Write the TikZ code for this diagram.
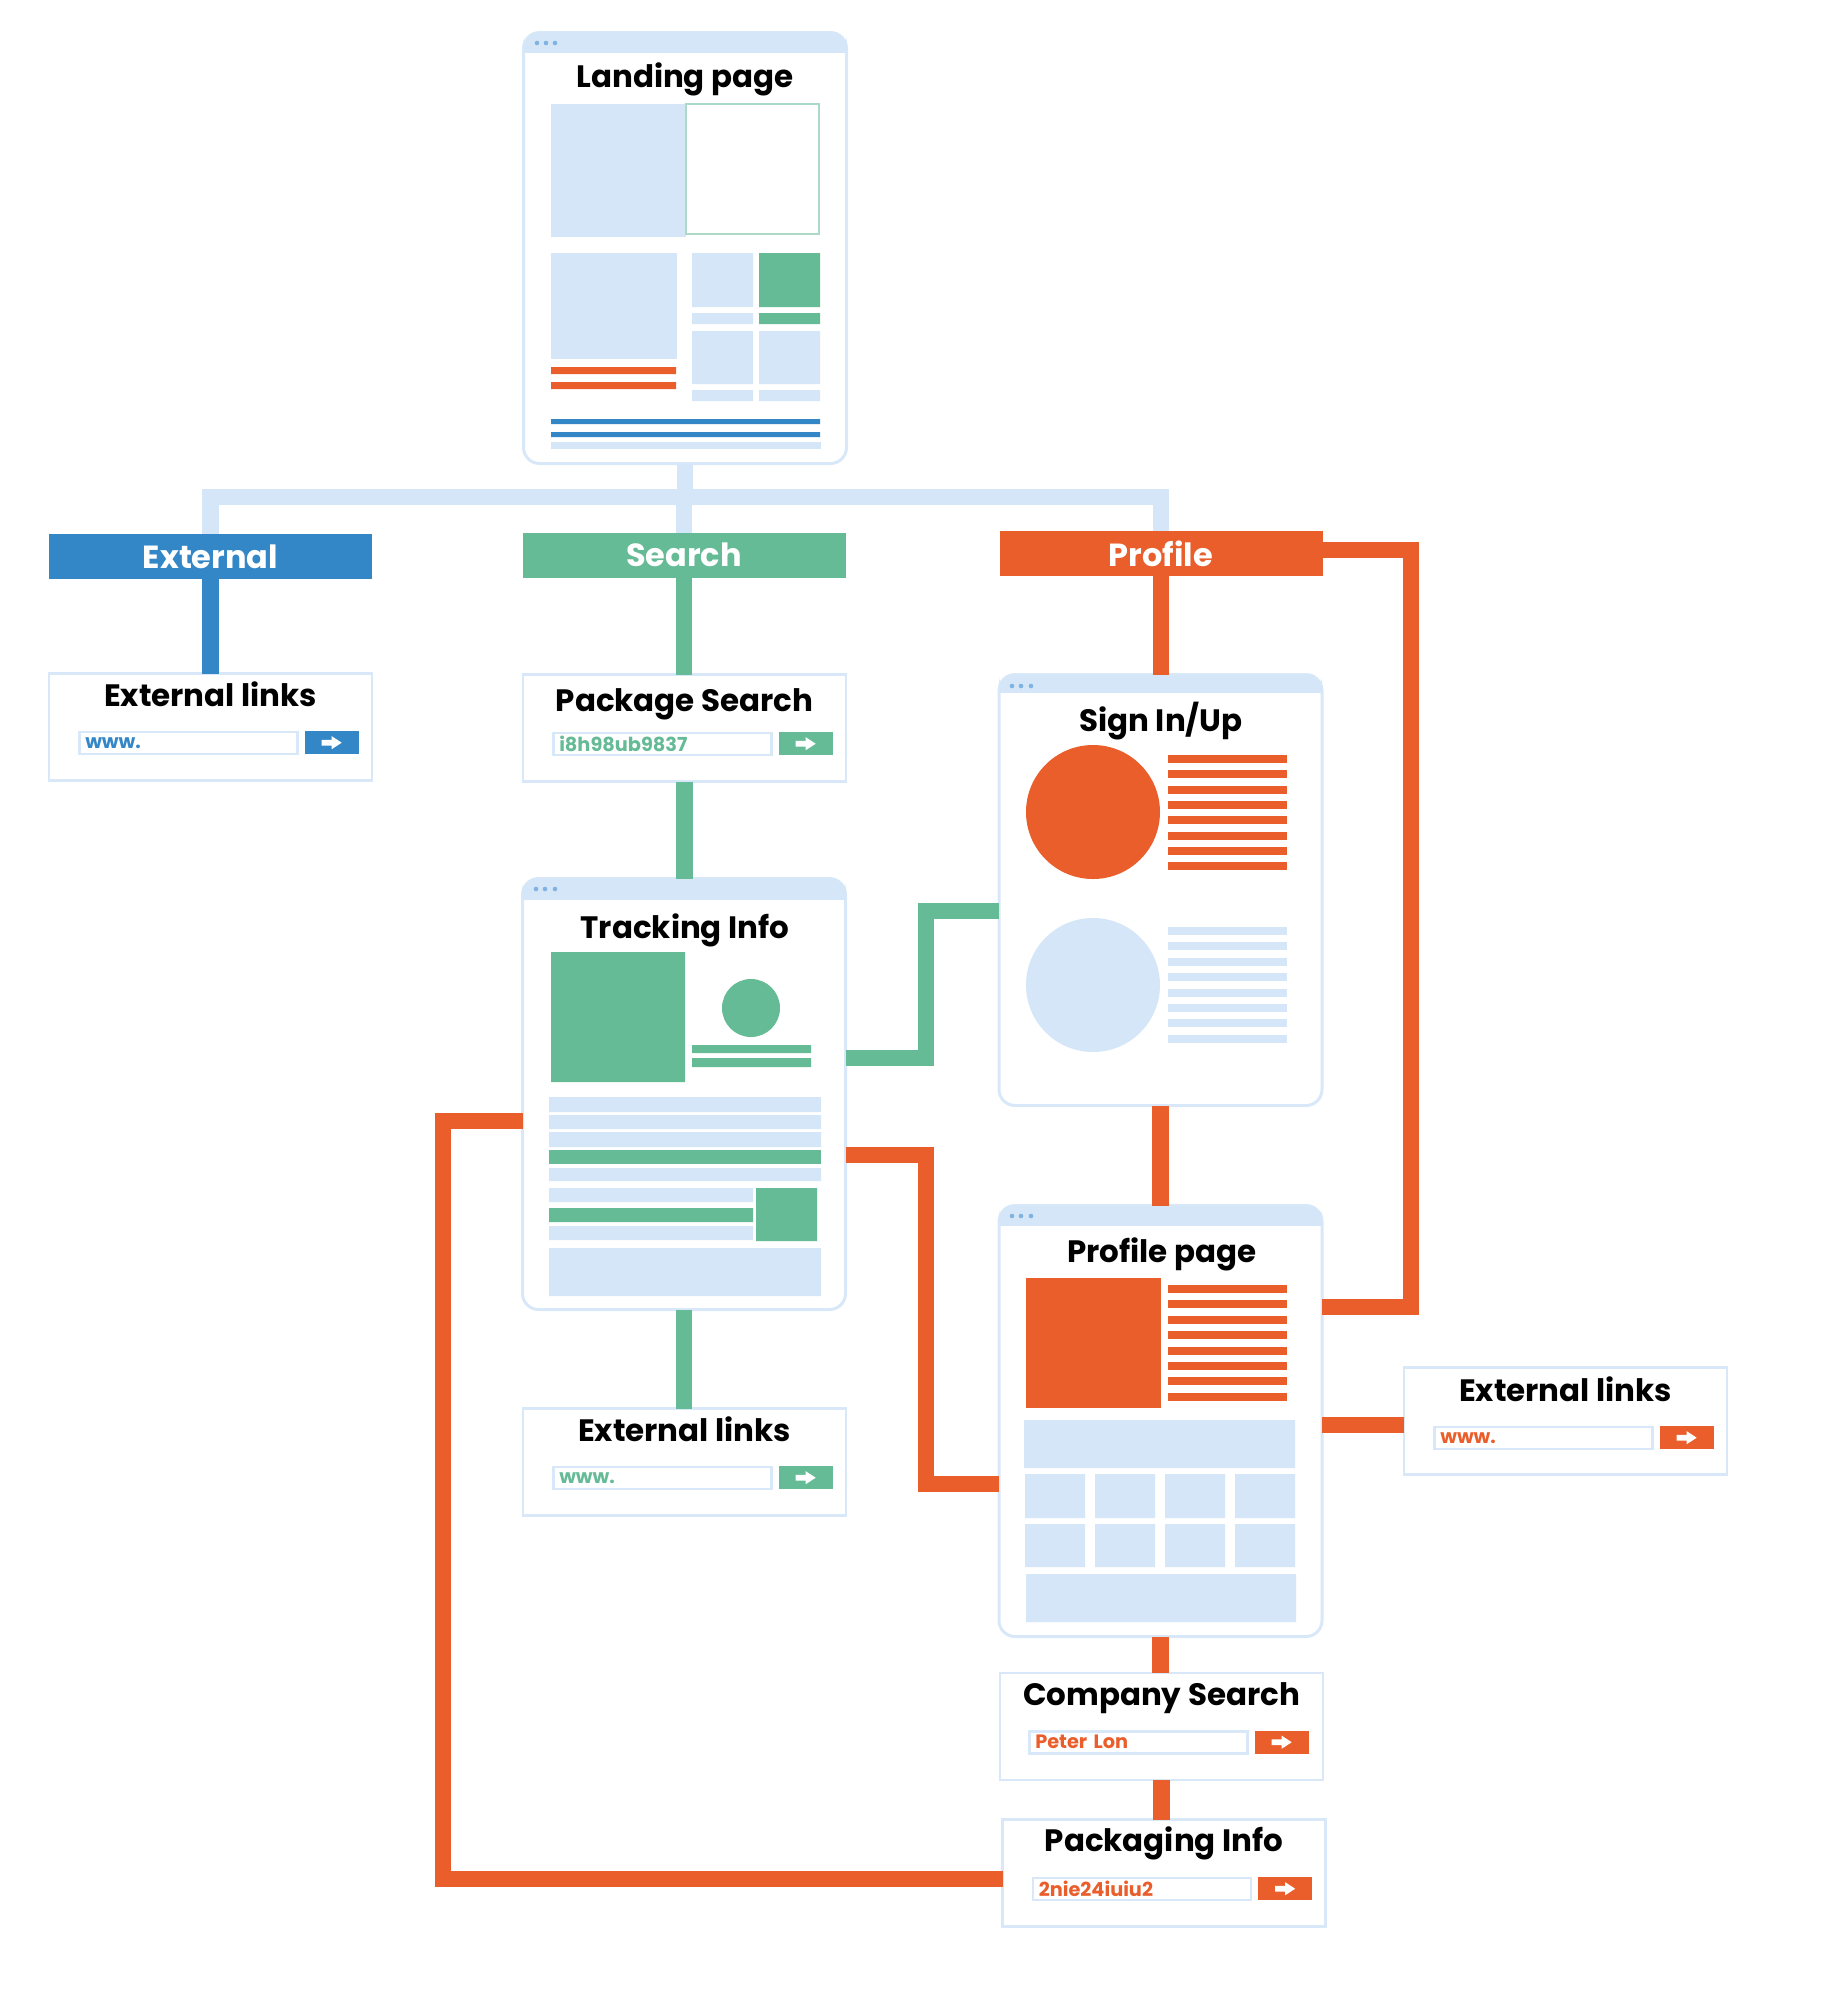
\documentclass[tikz,border=0pt]{standalone}
\usepackage{fontspec}
\setmainfont{Poppins}
\definecolor{wfblue}{HTML}{3487C7}
\definecolor{wfgreen}{HTML}{65BB95}
\definecolor{wforange}{HTML}{EA5E2B}
\definecolor{wflight}{HTML}{D4E6F7}
\definecolor{wfframe}{HTML}{D8E8F8}
\definecolor{wfdot}{HTML}{80B3E3}

\begin{document}
\begin{tikzpicture}[x=0.1mm, y=-0.1mm,
	page/.style = {draw=wfframe, line width=0.3mm, rounded corners=1.6mm, fill=white, minimum width=32.3mm, minimum height=43.1mm, inner sep=0pt, outer sep=0pt},
	sbox/.style = {draw=wfframe, line width=0.25mm, fill=white, minimum width=32.3mm, minimum height=10.7mm, inner sep=0pt, outer sep=0pt},
	head/.style = {minimum width=32.3mm, minimum height=4.5mm, inner sep=0pt, outer sep=0pt, text=white, font=\bfseries\fontsize{9.1}{11}\selectfont},
	ttl/.style = {anchor=base, inner sep=0pt, font=\bfseries\fontsize{8.8}{11}\selectfont},
	field/.style = {draw=wfframe, line width=0.25mm, fill=white, anchor=north west, minimum width=21.8mm, minimum height=2.2mm, text width=20.6mm, inner xsep=0.6mm, inner ysep=0pt, align=left, font=\bfseries\fontsize{5.5}{5.5}\selectfont},
	btn/.style = {anchor=north west, minimum width=5.4mm, minimum height=2.3mm, inner sep=0pt},
	link/.style = {line width=1.65mm},
	gobtn/.pic = {\fill[white] (-10,-2.8) -- (0,-2.8) -- (0,-6.5) -- (10,0) -- (0,6.5) -- (0,2.8) -- (-10,2.8) -- cycle;}]
	\useasboundingbox (0,0) rectangle (1836,1992);

	\node[page] (land) at (685,248) {};
	\node[page] (track) at (684,1094) {};
	\node[page] (sign) at (1160.5,890) {};
	\node[page] (prof) at (1160.5,1421) {};

	\node[head, fill=wfblue] (exthead) at (210.5,556.5) {External};
	\node[head, fill=wfgreen] (srchhead) at (684,555) {Search};
	\node[head, fill=wforange] (profhead) at (1161,553.5) {Profile};

	\node[sbox] (extl) at (210.5,727) {};
	\node[sbox] (pkg) at (684.5,728) {};
	\node[sbox] (extm) at (684.5,1462) {};
	\node[sbox] (extr) at (1565.5,1421) {};
	\node[sbox] (comp) at (1161.5,1726.5) {};
	\node[sbox] (pack) at (1164,1873) {};

	\fill[wflight, rounded corners=1.6mm] (land.north west) rectangle ([yshift=-2mm]land.north east);
	\fill[wflight] ([yshift=-1mm]land.north west) rectangle ([yshift=-2mm]land.north east);
	\fill[wfdot] (537,43) circle (2.3) (546,43) circle (2.3) (555,43) circle (2.3);
	\node[ttl] (landt) at (685,87) {Landing page};
	\fill[wflight] (551,104) rectangle (686,237);
	\draw[wfgreen!55, line width=0.15mm] (686,104) rectangle (819,234);
	\fill[wflight] (551,253) rectangle (677,359);
	\fill[wforange] (551,367) rectangle (676,374) (551,382) rectangle (676,389);
	\fill[wflight] (692,253) rectangle (753,307) (692,313) rectangle (753,324) (692,331) rectangle (753,384) (692,390) rectangle (753,401);
	\fill[wfgreen] (759,253) rectangle (820,307) (759,313) rectangle (820,324);
	\fill[wflight] (759,331) rectangle (820,384) (759,390) rectangle (820,401);
	\fill[wfblue] (551,419) rectangle (820,424) (551,432) rectangle (820,437);
	\fill[wflight] (551,442) rectangle (821,449);

	\fill[wflight, rounded corners=1.6mm] (track.north west) rectangle ([yshift=-2.1mm]track.north east);
	\fill[wflight] ([yshift=-1mm]track.north west) rectangle ([yshift=-2.1mm]track.north east);
	\fill[wfdot] (536,889) circle (2.3) (545,889) circle (2.3) (555,889) circle (2.3);
	\node[ttl] (trackt) at (685,938) {Tracking Info};
	\fill[wfgreen] (551,952) rectangle (685,1082) (751,1008) circle (29);
	\fill[wfgreen] (692,1045) rectangle (811,1053) (692,1058) rectangle (811,1067);
	\fill[wflight] (549,1097) rectangle (821,1112) (549,1115) rectangle (821,1129) (549,1132) rectangle (821,1147) (549,1168) rectangle (821,1181);
	\fill[wfgreen] (549,1150) rectangle (821,1164);
	\fill[wflight] (549,1188) rectangle (753,1202) (549,1226) rectangle (753,1240) (549,1248) rectangle (821,1296);
	\fill[wfgreen] (549,1208) rectangle (753,1222) (756,1188) rectangle (817,1241);

	\fill[wflight, rounded corners=1.6mm] (sign.north west) rectangle ([yshift=-1.8mm]sign.north east);
	\fill[wflight] ([yshift=-0.9mm]sign.north west) rectangle ([yshift=-1.8mm]sign.north east);
	\fill[wfdot] (1012,686) circle (2.3) (1021,686) circle (2.3) (1031,686) circle (2.3);
	\node[ttl] (signt) at (1161,731) {Sign In/Up};
	\fill[wforange] (1093,812) circle (67);
	\draw[wforange, line width=11.9mm, dash pattern=on 0.8mm off 0.73mm] (1227.5,755) -- (1227.5,870);
	\fill[wflight] (1093,985) circle (67);
	\draw[wflight, line width=11.9mm, dash pattern=on 0.8mm off 0.74mm] (1227.5,927) -- (1227.5,1043);

	\fill[wflight, rounded corners=1.6mm] (prof.north west) rectangle ([yshift=-2mm]prof.north east);
	\fill[wflight] ([yshift=-1mm]prof.north west) rectangle ([yshift=-2mm]prof.north east);
	\fill[wfdot] (1012,1216) circle (2.3) (1021,1216) circle (2.3) (1031,1216) circle (2.3);
	\node[ttl] (proft) at (1162,1262) {Profile page};
	\fill[wforange] (1026,1278) rectangle (1161,1408);
	\draw[wforange, line width=11.9mm, dash pattern=on 0.8mm off 0.74mm] (1227.5,1285) -- (1227.5,1401);
	\fill[wflight] (1024,1420) rectangle (1295,1468) (1026,1574) rectangle (1296,1622);
	\fill[wflight] (1025,1474) rectangle (1085,1518) (1095,1474) rectangle (1155,1518) (1165,1474) rectangle (1225,1518) (1235,1474) rectangle (1295,1518);
	\fill[wflight] (1025,1524) rectangle (1085,1567) (1095,1524) rectangle (1155,1567) (1165,1524) rectangle (1225,1567) (1235,1524) rectangle (1295,1567);

	\node[ttl] (extlt) at ([yshift=-3.3mm]extl.north) {External links};
	\node[field, text=wfblue] (extlf) at ([xshift=2.9mm, yshift=-5.7mm]extl.north west) {www.};
	\node[btn, fill=wfblue] (extlb) at ([xshift=25.5mm, yshift=-5.7mm]extl.north west) {};
	\pic at (extlb) {gobtn};

	\node[ttl] (pkgt) at ([yshift=-3.7mm]pkg.north) {Package Search};
	\node[field, text=wfgreen] (pkgf) at ([xshift=2.9mm, yshift=-5.7mm]pkg.north west) {i8h98ub9837};
	\node[btn, fill=wfgreen] (pkgb) at ([xshift=25.5mm, yshift=-5.7mm]pkg.north west) {};
	\pic at (pkgb) {gobtn};

	\node[ttl] (extmt) at ([yshift=-3.3mm]extm.north) {External links};
	\node[field, text=wfgreen] (extmf) at ([xshift=2.9mm, yshift=-5.7mm]extm.north west) {www.};
	\node[btn, fill=wfgreen] (extmb) at ([xshift=25.5mm, yshift=-5.7mm]extm.north west) {};
	\pic at (extmb) {gobtn};

	\node[ttl] (extrt) at ([yshift=-3.4mm]extr.north) {External links};
	\node[field, text=wforange] (extrf) at ([xshift=2.9mm, yshift=-5.8mm]extr.north west) {www.};
	\node[btn, fill=wforange] (extrb) at ([xshift=25.5mm, yshift=-5.8mm]extr.north west) {};
	\pic at (extrb) {gobtn};

	\node[ttl] (compt) at ([yshift=-3.2mm]comp.north) {Company Search};
	\node[field, text=wforange] (compf) at ([xshift=2.8mm, yshift=-5.7mm]comp.north west) {Peter Lon};
	\node[btn, fill=wforange] (compb) at ([xshift=25.4mm, yshift=-5.7mm]comp.north west) {};
	\pic at (compb) {gobtn};

	\node[ttl] (packt) at ([yshift=-3.2mm]pack.north) {Packaging Info};
	\node[field, text=wforange] (packf) at ([xshift=2.9mm, yshift=-5.7mm]pack.north west) {2nie24iuiu2};
	\node[btn, fill=wforange] (packb) at ([xshift=25.5mm, yshift=-5.7mm]pack.north west) {};
	\pic at (packb) {gobtn};

	\coordinate (fork) at (684,497);
	\draw[link, wflight] (land.south) -- (land.south |- fork);
	\draw[link, wflight] (exthead.north) |- (fork) -| (profhead.north);
	\draw[link, wflight] (fork) -- (srchhead.north);
	\draw[link, wfblue] (exthead.south) -- (extl.north);
	\draw[link, wfgreen] (srchhead.south) -- (srchhead.south |- pkg.north);
	\draw[link, wfgreen] (pkg.south) -- (pkg.south |- track.north);
	\draw[link, wfgreen] (track.south) -- (track.south |- extm.north);
	\draw[link, wfgreen] (track.east |- 0,1058) -| (926,911) -- (sign.west |- 0,911);
	\draw[link, wforange] (profhead.south) -- (profhead.south |- sign.north);
	\draw[link, wforange] (sign.south) -- (prof.north);
	\draw[link, wforange] (prof.south) -- (prof.south |- comp.north);
	\draw[link, wforange] (comp.south) -- (comp.south |- pack.north);
	\draw[link, wforange] (profhead.east |- 0,550) -| (1411,1307) -- (prof.east |- 0,1307);
	\draw[link, wforange] (prof.east |- 0,1425) -- (extr.west |- 0,1425);
	\draw[link, wforange] (track.east |- 0,1155) -| (926,1484) -- (prof.west |- 0,1484);
	\draw[link, wforange] (track.west |- 0,1121) -| (443,1879) -- (pack.west |- 0,1879);
\end{tikzpicture}
\end{document}
